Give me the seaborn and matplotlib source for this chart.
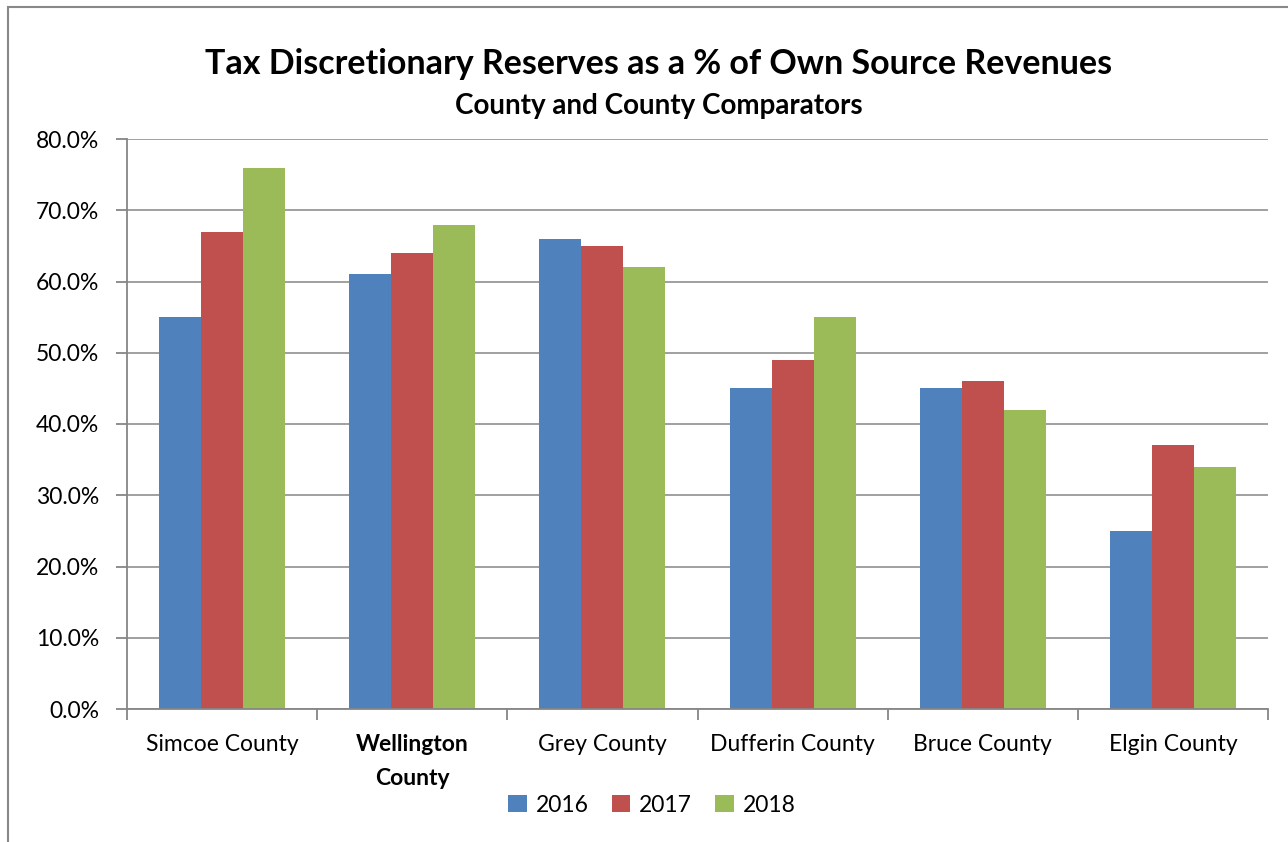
import matplotlib
matplotlib.use("Agg")
import matplotlib.pyplot as plt
import seaborn as sns
import pandas as pd
from matplotlib.ticker import FuncFormatter, MultipleLocator, FixedLocator
from matplotlib.patches import Rectangle, Patch

categories = ["Simcoe County", "Wellington\nCounty", "Grey County", "Dufferin County", "Bruce County", "Elgin County"]
years = ["2016", "2017", "2018"]
v2016 = [55, 61, 66, 45, 45, 25]
v2017 = [67, 64, 65, 49, 46, 37]
v2018 = [76, 68, 62, 55, 42, 34]
colors = ["#4F81BD", "#C0504D", "#9BBB59"]

rows = []
for yr, vals in zip(years, [v2016, v2017, v2018]):
    for c, v in zip(categories, vals):
        rows.append({"County": c, "Year": yr, "Value": v})
df = pd.DataFrame(rows)

sns.set_style("white")
plt.rcParams['font.family'] = ['Lato', 'DejaVu Sans']
plt.rcParams['text.color'] = 'black'
plt.rcParams['xtick.color'] = 'black'
plt.rcParams['ytick.color'] = 'black'

W, H = 1288, 842
fig = plt.figure(figsize=(W / 100, H / 100), dpi=100)
ax = fig.add_axes([127 / W, (H - 709) / H, (1268 - 127) / W, (709 - 139) / H])

sns.barplot(data=df, x="County", y="Value", hue="Year", palette=colors,
            order=categories, hue_order=years, width=0.663, gap=0,
            saturation=1, edgecolor="none", ax=ax, legend=False)

grid_c = "#868686"
ax.set_ylim(0, 80)
ax.set_xlim(-0.5, len(categories) - 0.5)
ax.yaxis.set_major_locator(MultipleLocator(10))
ax.yaxis.set_major_formatter(FuncFormatter(lambda v, p: f"{v:.1f}%"))
ax.grid(axis="y", color=grid_c, linewidth=1.1)
ax.set_axisbelow(True)
for s in ["top", "right"]:
    ax.spines[s].set_visible(False)
for s in ["left", "bottom"]:
    ax.spines[s].set_color(grid_c)
    ax.spines[s].set_linewidth(1.3)

ax.set_xlabel("")
ax.set_ylabel("")
ax.tick_params(axis="y", direction="out", length=8, color=grid_c, width=1.3,
               labelsize=16.5, pad=12, left=True, labelcolor="black")
ax.tick_params(axis="x", which="major", length=0, labelsize=16.5, pad=18, labelcolor="black")
ax.xaxis.set_minor_locator(FixedLocator([i - 0.5 for i in range(len(categories) + 1)]))
ax.tick_params(axis="x", which="minor", direction="out", length=8, color=grid_c, width=1.3, bottom=True)
for lbl in ax.get_xticklabels():
    lbl.set_linespacing(1.75)
    lbl.set_verticalalignment("top")
    if lbl.get_text().startswith("Wellington"):
        lbl.set_fontweight("bold")

fig.text(659 / W, 1 - 64 / H, "Tax Discretionary Reserves as a % of Own Source Revenues",
         ha="center", va="center", fontsize=24.5, fontweight="bold")
fig.text(659 / W, 1 - 106 / H, "County and County Comparators",
         ha="center", va="center", fontsize=20, fontweight="bold")

handles = [Patch(facecolor=c, edgecolor="none") for c in colors]
fig.legend(handles, years, loc="center", bbox_to_anchor=(652 / W, 1 - 805 / H), ncol=3,
           frameon=False, fontsize=16.5, handlelength=0.8, handleheight=0.8,
           handletextpad=0.4, columnspacing=1.0)

fig.patches.append(Rectangle((8 / W, -0.1), 1.2, 1 - 7 / H + 0.1, transform=fig.transFigure,
                             fill=False, edgecolor="#888888", linewidth=1.5))

fig.savefig("out.png", dpi=100, facecolor="white")
